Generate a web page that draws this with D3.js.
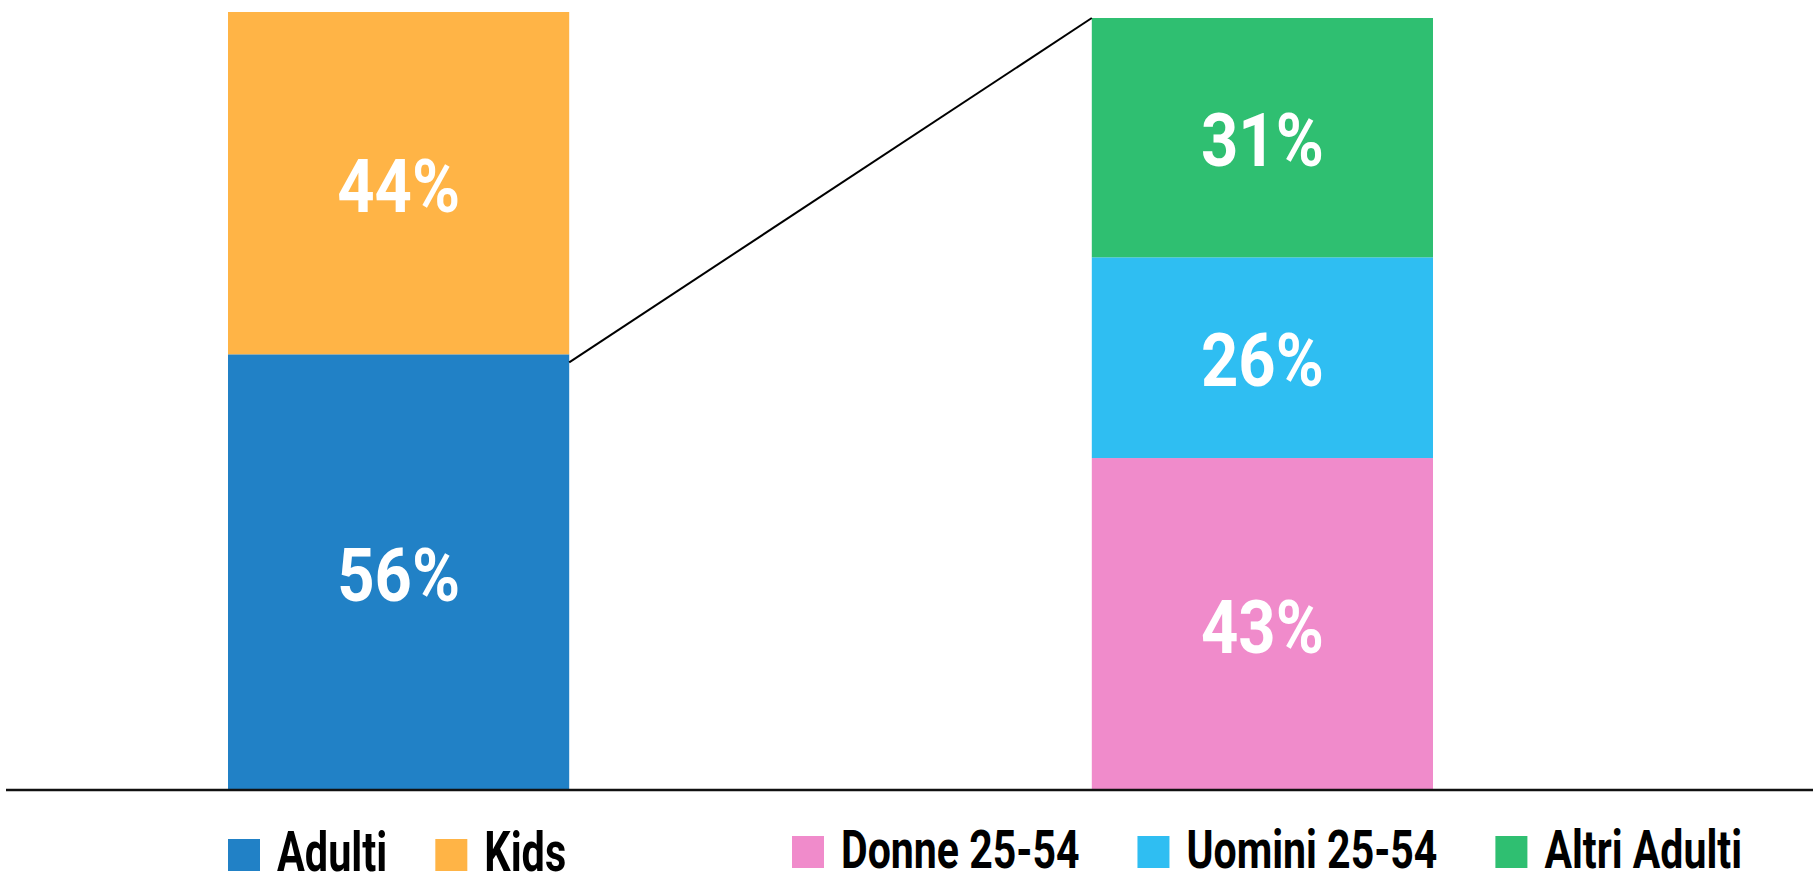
<!DOCTYPE html>
<html>
<head>
<meta charset="utf-8">
<script src="https://cdn.jsdelivr.net/npm/d3@7"></script>
<style>
  body { margin: 0; background: #fff; }
  text { font-family: "Roboto", "DejaVu Sans Condensed", sans-serif; font-weight: bold; }
</style>
</head>
<body>
<div id="chart"></div>
<script>
// data
var bars = ["Totale", "Adulti"];
var leftCategories = ["Adulti", "Kids"];
var leftValues = [56, 44];
var leftColors = ["#2181c6", "#ffb446"];
var rightCategories = ["Donne 25-54", "Uomini 25-54", "Altri Adulti"];
var rightValues = [43, 26, 31];
var rightColors = ["#f08bcb", "#2fbef2", "#2fbf71"];

var width = 1813, height = 875;

var svg = d3.select("#chart")
  .append("svg")
  .attr("width", width)
  .attr("height", height);

// x: one band per stacked bar
var x = d3.scaleBand()
  .domain(bars)
  .range([228, 1433])
  .paddingInner(0.605)
  .paddingOuter(0);

// the two panels have slightly different tops
var yLeft = d3.scaleLinear().domain([0, 100]).range([790, 12]);
var yRight = d3.scaleLinear().domain([0, 100]).range([790, 18]);

function stackBar(name, cats, vals, colors, y) {
  var ends = d3.cumsum(vals);
  var segs = cats.map(function (c, i) {
    return { cat: c, v: vals[i], y0: ends[i] - vals[i], y1: ends[i], color: colors[i] };
  });
  var g = svg.append("g");
  g.selectAll("rect")
    .data(segs)
    .enter()
    .append("rect")
    .attr("x", x(name))
    .attr("width", x.bandwidth())
    .attr("y", function (d) { return y(d.y1); })
    .attr("height", function (d) { return y(d.y0) - y(d.y1); })
    .attr("fill", function (d) { return d.color; });
  g.selectAll("text")
    .data(segs)
    .enter()
    .append("text")
    .attr("transform", function (d) {
      return "translate(" + (x(name) + x.bandwidth() / 2) + "," + ((y(d.y0) + y(d.y1)) / 2 + 3) + ") scale(0.88,1)";
    })
    .attr("text-anchor", "middle")
    .attr("dominant-baseline", "central")
    .attr("fill", "#fff")
    .style("font-size", "74px")
    .text(function (d) { return d.v + "%"; });
  return segs;
}

stackBar("Totale", leftCategories, leftValues, leftColors, yLeft);
stackBar("Adulti", rightCategories, rightValues, rightColors, yRight);

// connector from the Adulti segment to the top of the breakdown bar
svg.append("line")
  .attr("x1", x("Totale") + x.bandwidth())
  .attr("y1", yLeft(leftValues[0]) + 8)
  .attr("x2", x("Adulti"))
  .attr("y2", yRight(100))
  .attr("stroke", "#000")
  .attr("stroke-width", 2);

// baseline
svg.append("line")
  .attr("x1", 6)
  .attr("x2", width)
  .attr("y1", yLeft(0))
  .attr("y2", yLeft(0))
  .attr("stroke", "#111")
  .attr("stroke-width", 2.5);

// legends
function legend(cats, colors, x0, baseline, size, box, gap, squeeze) {
  var cx = x0;
  cats.forEach(function (c, i) {
    var g = svg.append("g").attr("transform", "translate(" + cx + "," + baseline + ")");
    g.append("rect")
      .attr("x", 0)
      .attr("y", -box)
      .attr("width", box)
      .attr("height", box)
      .attr("fill", colors[i]);
    var t = g.append("text")
      .attr("transform", "translate(" + (box + 17) + ",0) scale(" + squeeze + ",1)")
      .attr("fill", "#000")
      .style("font-size", size + "px")
      .text(c);
    var w = t.node().getComputedTextLength() * squeeze;
    cx += box + 17 + w + gap;
  });
}

legend(leftCategories, leftColors, x("Totale"), 871, 56, 32, 48, 0.74);
legend(rightCategories, rightColors, 792, 868, 54, 32, 58, 0.76);
</script>
</body>
</html>
